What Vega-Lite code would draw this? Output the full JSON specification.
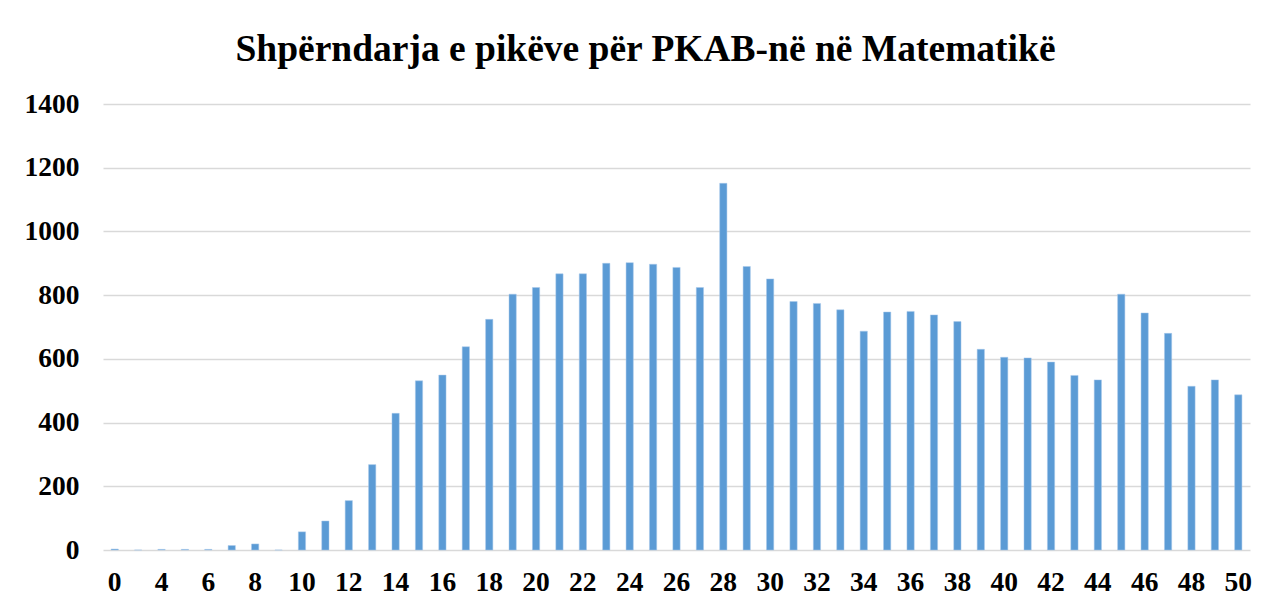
{
  "$schema": "https://vega.github.io/schema/vega-lite/v6.json",
  "width": 1147,
  "height": 446,
  "autosize": {"type": "none"},
  "padding": {"left": 103, "top": 104, "right": 27, "bottom": 58},
  "background": "white",
  "title": {
    "text": "Shpërndarja e pikëve për PKAB-në në Matematikë",
    "font": "Liberation Serif",
    "fontSize": 37.5,
    "fontWeight": "bold",
    "color": "#000000",
    "anchor": "middle",
    "baseline": "alphabetic",
    "offset": -8,
    "dx": -31
  },
  "data": {
    "values": [
      {"pike": 0, "nxenes": 3},
      {"pike": 2, "nxenes": 0},
      {"pike": 4, "nxenes": 2},
      {"pike": 5, "nxenes": 2},
      {"pike": 6, "nxenes": 2},
      {"pike": 7, "nxenes": 14},
      {"pike": 8, "nxenes": 19},
      {"pike": 9, "nxenes": 0},
      {"pike": 10, "nxenes": 57},
      {"pike": 11, "nxenes": 91},
      {"pike": 12, "nxenes": 155},
      {"pike": 13, "nxenes": 268},
      {"pike": 14, "nxenes": 429},
      {"pike": 15, "nxenes": 531},
      {"pike": 16, "nxenes": 549},
      {"pike": 17, "nxenes": 638},
      {"pike": 18, "nxenes": 724},
      {"pike": 19, "nxenes": 803},
      {"pike": 20, "nxenes": 824},
      {"pike": 21, "nxenes": 867},
      {"pike": 22, "nxenes": 867},
      {"pike": 23, "nxenes": 900},
      {"pike": 24, "nxenes": 902},
      {"pike": 25, "nxenes": 897},
      {"pike": 26, "nxenes": 887},
      {"pike": 27, "nxenes": 824},
      {"pike": 28, "nxenes": 1151},
      {"pike": 29, "nxenes": 890},
      {"pike": 30, "nxenes": 851},
      {"pike": 31, "nxenes": 780},
      {"pike": 32, "nxenes": 774},
      {"pike": 33, "nxenes": 754},
      {"pike": 34, "nxenes": 687},
      {"pike": 35, "nxenes": 747},
      {"pike": 36, "nxenes": 749},
      {"pike": 37, "nxenes": 738},
      {"pike": 38, "nxenes": 717},
      {"pike": 39, "nxenes": 630},
      {"pike": 40, "nxenes": 605},
      {"pike": 41, "nxenes": 603},
      {"pike": 42, "nxenes": 590},
      {"pike": 43, "nxenes": 548},
      {"pike": 44, "nxenes": 534},
      {"pike": 45, "nxenes": 803},
      {"pike": 46, "nxenes": 744},
      {"pike": 47, "nxenes": 680},
      {"pike": 48, "nxenes": 514},
      {"pike": 49, "nxenes": 534},
      {"pike": 50, "nxenes": 487}
    ]
  },
  "mark": {"type": "bar", "color": "#5B9BD5", "stroke": "#A9C8EA", "strokeWidth": 0.5},
  "encoding": {
    "x": {
      "field": "pike",
      "type": "ordinal",
      "sort": "ascending",
      "scale": {"paddingInner": 0.69, "paddingOuter": 0.345},
      "axis": {
        "title": null,
        "values": [0, 4, 6, 8, 10, 12, 14, 16, 18, 20, 22, 24, 26, 28, 30, 32, 34, 36, 38, 40, 42, 44, 46, 48, 50],
        "labelAngle": 0,
        "labelFont": "Liberation Serif",
        "labelFontSize": 27.5,
        "labelFontWeight": "bold",
        "labelColor": "#000000",
        "labelPadding": 18,
        "ticks": false,
        "domain": false,
        "grid": false
      }
    },
    "y": {
      "field": "nxenes",
      "type": "quantitative",
      "scale": {"domain": [0, 1400], "nice": false},
      "axis": {
        "title": null,
        "format": "d",
        "values": [0, 200, 400, 600, 800, 1000, 1200, 1400],
        "labelFont": "Liberation Serif",
        "labelFontSize": 27.5,
        "labelFontWeight": "bold",
        "labelColor": "#000000",
        "labelPadding": 24,
        "ticks": false,
        "domain": false,
        "grid": true,
        "gridColor": "#D9D9D9",
        "gridWidth": 1.5
      }
    }
  },
  "config": {"view": {"stroke": null}}
}
